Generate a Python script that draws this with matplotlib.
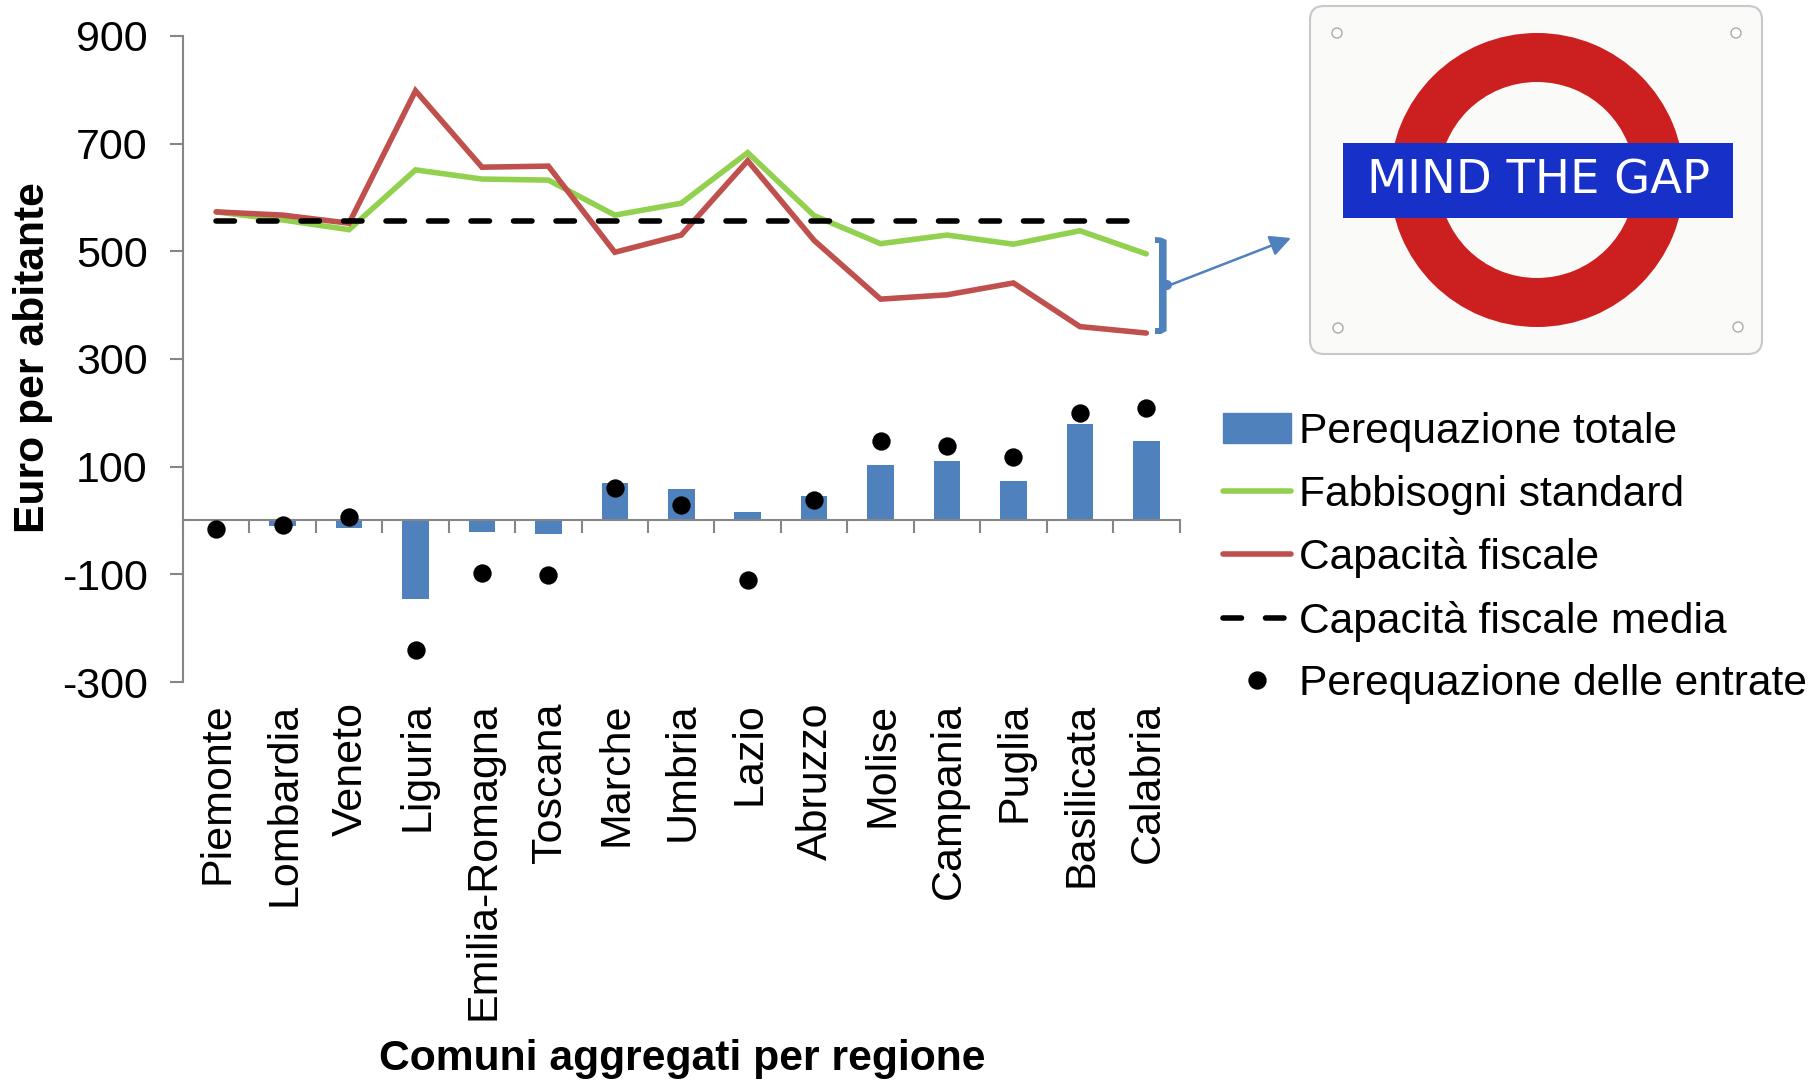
import matplotlib
matplotlib.use("Agg")
import matplotlib.pyplot as plt
from matplotlib.patches import Circle, FancyBboxPatch, Polygon, Rectangle, Wedge
from matplotlib.lines import Line2D
from matplotlib.transforms import ScaledTranslation

regions = ["Piemonte", "Lombardia", "Veneto", "Liguria", "Emilia-Romagna", "Toscana", "Marche",
           "Umbria", "Lazio", "Abruzzo", "Molise", "Campania", "Puglia", "Basilicata", "Calabria"]
perequazione_totale = [-1, -11, -14, -146, -22, -26, 70, 58, 15, 46, 103, 110, 74, 179, 148]
fabbisogni_standard = [573, 558, 540, 651, 634, 632, 567, 589, 683, 566, 514, 530, 513, 538, 495]
capacita_fiscale = [573, 567, 552, 798, 656, 658, 498, 530, 668, 520, 411, 419, 441, 360, 348]
capacita_media = [557] * 15
perequazione_entrate = [-15, -8, 6, -240, -98, -101, 61, 28, -110, 38, 148, 139, 118, 199, 209]
y_ticks = [-300, -100, 100, 300, 500, 700, 900]

W, H = 1812, 1081
BLUE, GREEN, RED, GREY = "#4F81BD", "#92D050", "#C0504D", "#868686"
plt.rcParams["font.family"] = ["Liberation Sans", "DejaVu Sans"]
plt.rcParams["lines.scale_dashes"] = False
plt.rcParams["axes.unicode_minus"] = False
FS = 31
LW = 4.0
DASH = (0, (13.3, 17.3))
MS = 13.2

fig = plt.figure(figsize=(W / 100, H / 100), dpi=100)
ax = fig.add_axes([183 / W, 1 - 682 / H, (1179.5 - 183) / W, (682 - 35.8) / H])
x = list(range(len(regions)))

ax.bar(x, perequazione_totale, width=0.4, color=BLUE, zorder=2)
ax.plot(x, fabbisogni_standard, color=GREEN, lw=LW, zorder=3, solid_capstyle="round", solid_joinstyle="miter")
ax.plot(x, capacita_fiscale, color=RED, lw=LW, zorder=4, solid_capstyle="round", solid_joinstyle="miter")
ax.plot(x, capacita_media, color="black", lw=LW, ls=DASH, dash_capstyle="round", zorder=5)
ax.plot(x, perequazione_entrate, ls="none", marker="o", ms=MS, color="black", mew=0, zorder=6)

ax.set_xlim(-0.5, 14.5)
ax.set_ylim(-300, 900)
for s in ("top", "right"):
    ax.spines[s].set_visible(False)
ax.spines["bottom"].set_position(("data", 0))
for s in ("left", "bottom"):
    ax.spines[s].set_color(GREY)
    ax.spines[s].set_linewidth(1.5)
ax.set_yticks(y_ticks)
ax.set_xticks([i - 0.5 for i in range(len(regions) + 1)], labels=[])
ax.set_xticks(x, labels=regions, minor=True)
ax.tick_params(axis="y", direction="out", length=9.5, width=1.5, color=GREY, labelsize=FS, pad=16)
ax.tick_params(axis="x", which="major", direction="out", length=9.5, width=1.5, color=GREY)
ax.tick_params(axis="x", which="minor", length=0, labelsize=FS, labelrotation=90, pad=131)
shift = ScaledTranslation(1.5 / 100, 0, fig.dpi_scale_trans)
for lab in ax.get_xticklabels(minor=True):
    lab.set_transform(lab.get_transform() + shift)

fig.text(33 / W, 1 - 358 / H, "Euro per abitante", rotation=90, fontsize=30.7, fontweight="bold", ha="center", va="center")
fig.text(682 / W, 1 - 1059 / H, "Comuni aggregati per regione", fontsize=30.7, fontweight="bold", ha="center", va="center")

handles = [Rectangle((0, 0), 1, 1, color=BLUE),
           Line2D([], [], color=GREEN, lw=LW, solid_capstyle="round"),
           Line2D([], [], color=RED, lw=LW, solid_capstyle="round"),
           Line2D([], [], color="black", lw=LW, ls=DASH, dash_capstyle="round"),
           Line2D([], [], ls="none", marker="o", ms=MS, color="black", mew=0)]
labels = ["Perequazione totale", "Fabbisogni standard", "Capacità fiscale", "Capacità fiscale media",
          "Perequazione delle entrate"]
fig.legend(handles, labels, loc="upper left", bbox_to_anchor=(1223 / W, 1 - 412 / H), frameon=False,
           fontsize=30.65, borderpad=0, borderaxespad=0, labelspacing=0.53, handlelength=1.6, handletextpad=0.19,
           handleheight=0.7)

# overlay in pixel coordinates for the sign and the bracket
ov = fig.add_axes([0, 0, 1, 1], zorder=10)
ov.set_xlim(0, W)
ov.set_ylim(H, 0)
ov.axis("off")
ov.patch.set_alpha(0)

ov.add_patch(FancyBboxPatch((1322, 18), 428, 324, boxstyle="round,pad=12,rounding_size=14",
                            fc="#FAFAF9", ec="#C8C8C8", lw=1.5))
cx, cy = 1537, 180
ov.add_patch(Wedge((cx, cy), 147, 0, 360, width=49, fc="#CC1F20", ec="none"))
ov.add_patch(Rectangle((1343, 143), 390, 75, fc="#1630C8", ec="none"))
ov.text(1539, 181, "MIND THE GAP", color="white", family="DejaVu Sans", fontsize=33.5, ha="center", va="center")
for hx, hy in [(1337, 33), (1736, 33), (1338, 328), (1738, 327)]:
    ov.add_patch(Circle((hx, hy), 5, fc="white", ec="#AAAAAA", lw=1))

ov.add_patch(Polygon([(1155, 237), (1161, 237.5), (1166.6, 240), (1166.6, 331), (1161, 334), (1155, 334),
                      (1155, 328), (1159, 328), (1159, 243), (1155, 243)], closed=True, fc=BLUE, ec="none"))
ov.add_patch(Circle((1167, 285), 5, fc=BLUE, ec="none"))
ov.annotate("", xy=(1291, 238), xytext=(1170, 285),
            arrowprops=dict(arrowstyle="-|>,head_length=0.9,head_width=0.45", color=BLUE, lw=1.8,
                            shrinkA=0, shrinkB=0, mutation_scale=14))

fig.savefig("out.png", dpi=100)
